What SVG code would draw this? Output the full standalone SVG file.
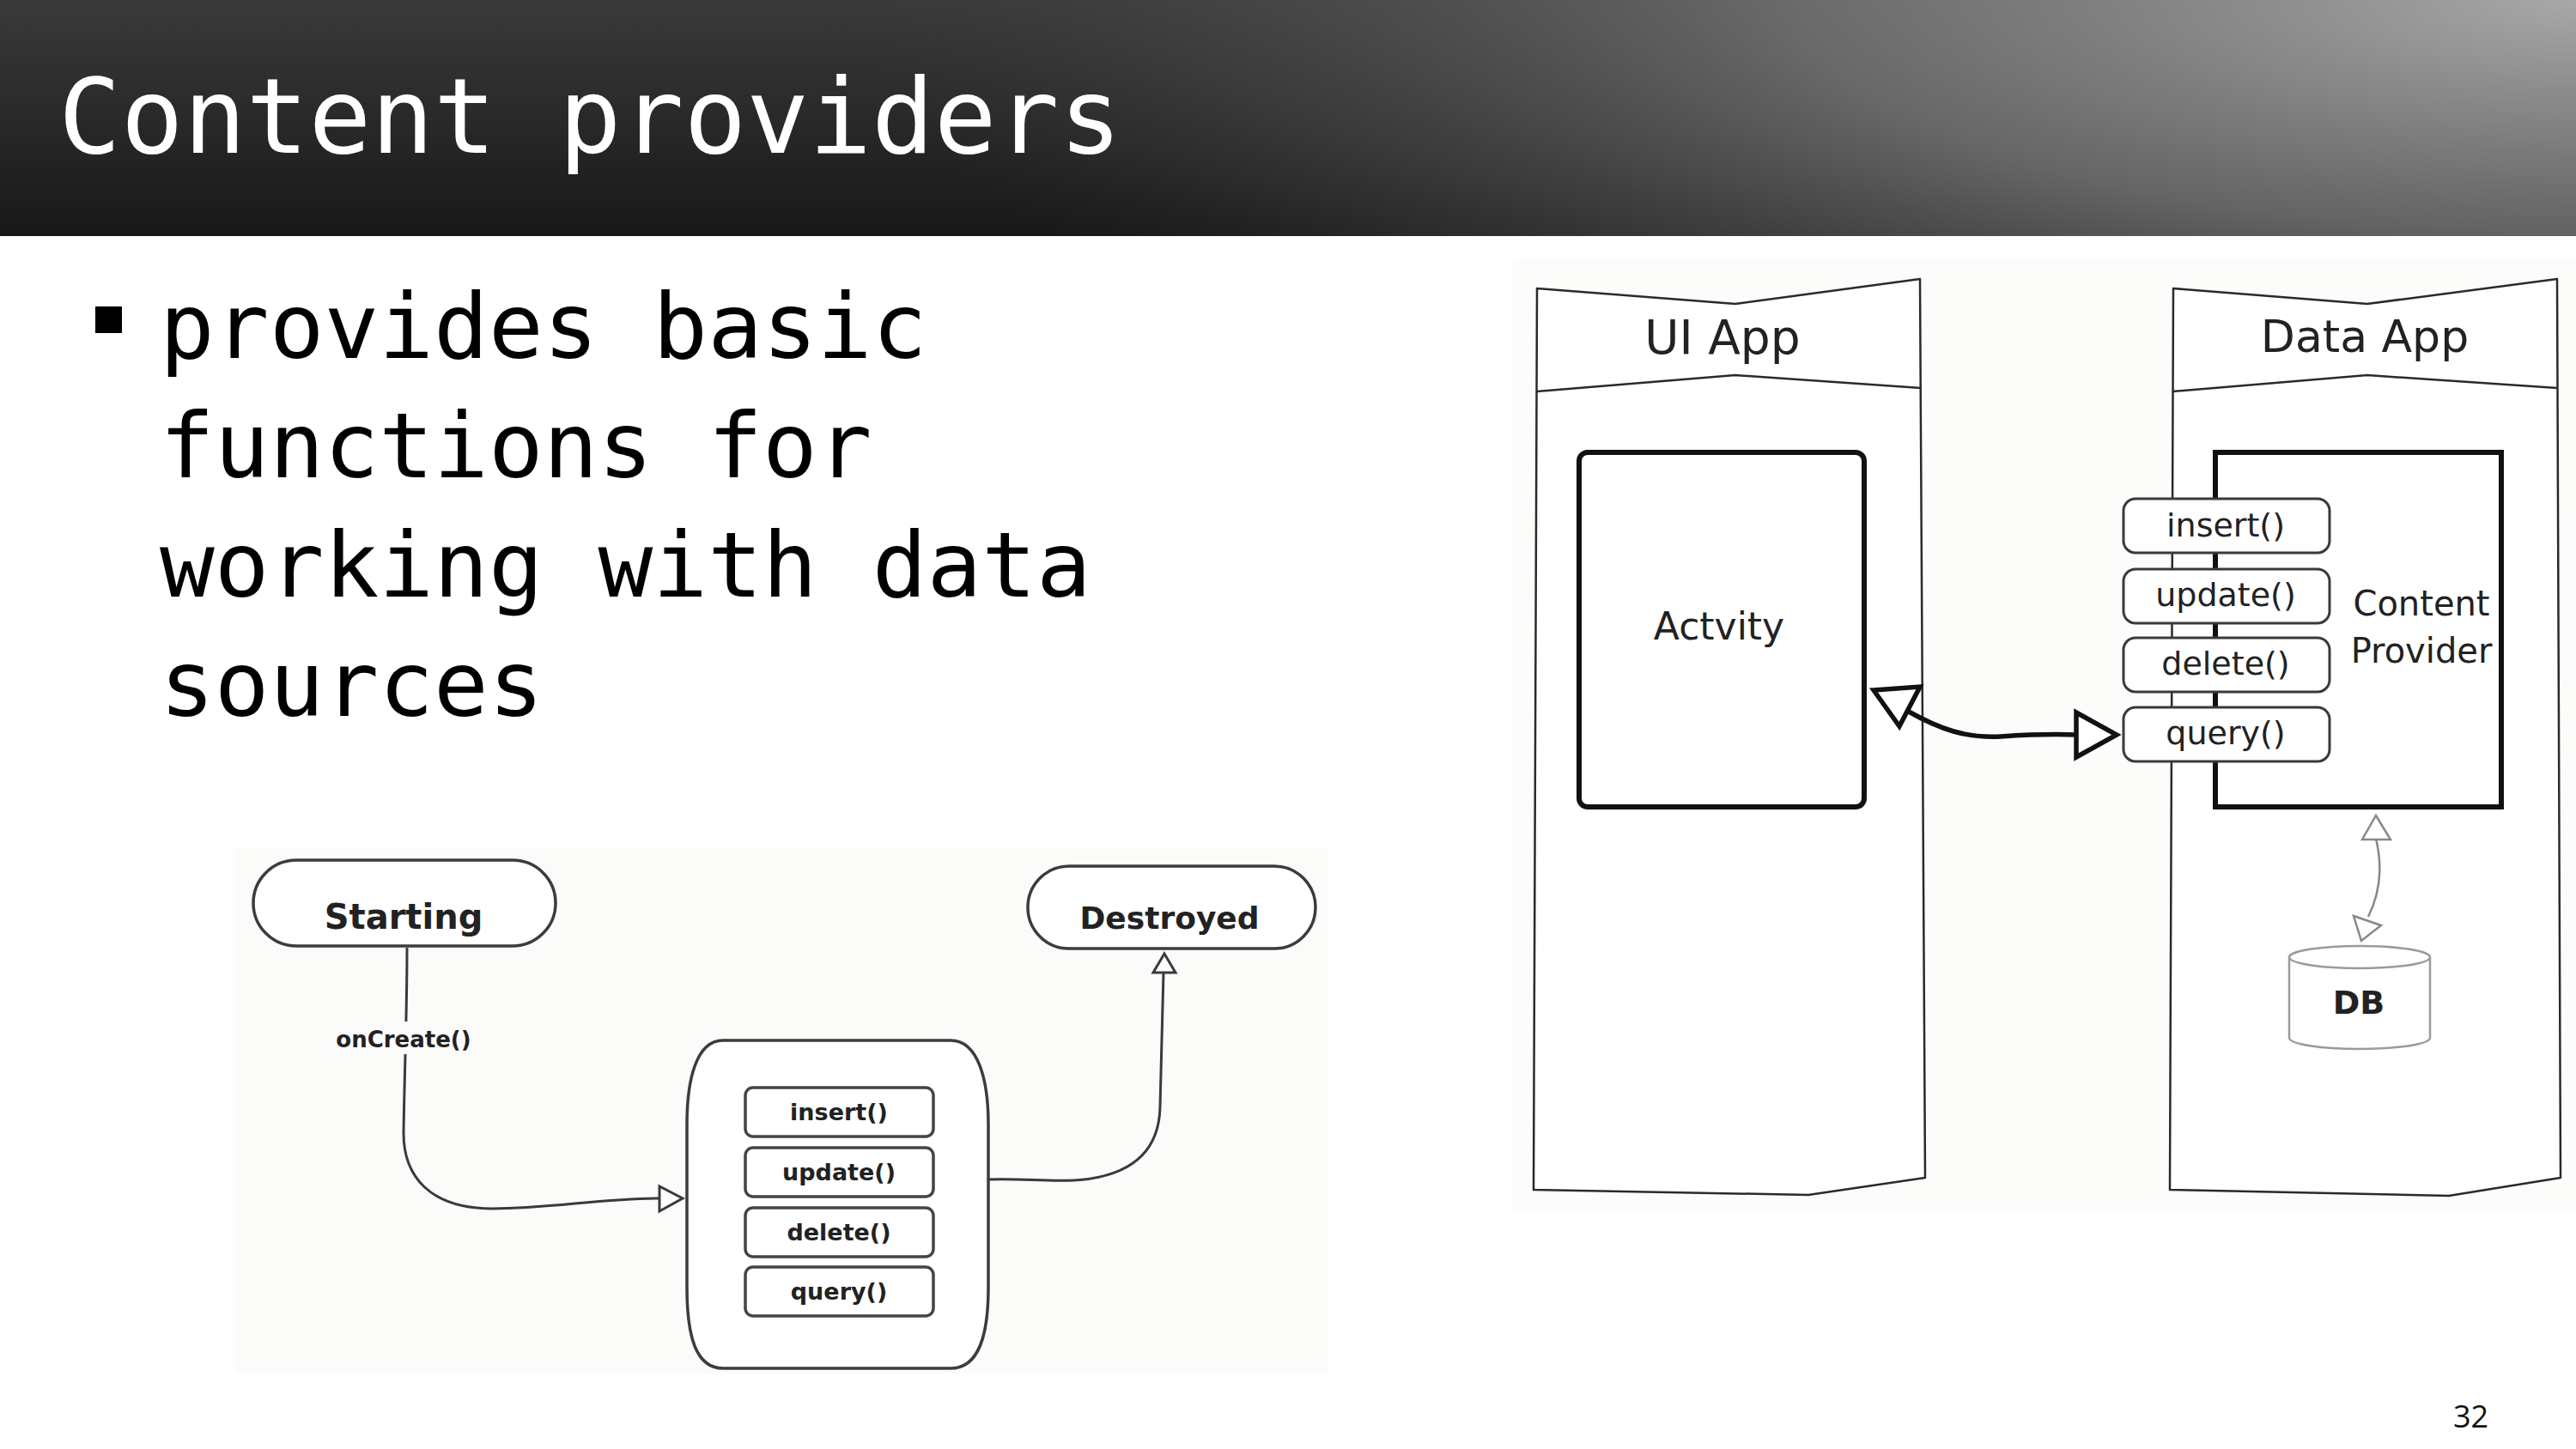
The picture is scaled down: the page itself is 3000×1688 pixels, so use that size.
<svg xmlns="http://www.w3.org/2000/svg" width="3000" height="1688" viewBox="0 0 3000 1688">
  <defs>
    <linearGradient id="bandBase" x1="0" y1="0" x2="0" y2="1">
      <stop offset="0" stop-color="#3a3a3a"/>
      <stop offset="1" stop-color="#181818"/>
    </linearGradient>
    <radialGradient id="bandGlow" gradientUnits="userSpaceOnUse" cx="3000" cy="0" r="2000" gradientTransform="translate(3000 0) scale(1 0.3) translate(-3000 0)">
      <stop offset="0" stop-color="#a8a8a8" stop-opacity="1"/>
      <stop offset="0.45" stop-color="#7c7c7c" stop-opacity="0.75"/>
      <stop offset="0.8" stop-color="#585858" stop-opacity="0.3"/>
      <stop offset="1" stop-color="#404040" stop-opacity="0"/>
    </radialGradient>
    <style>
      .mono { font-family: "DejaVu Sans Mono", "Liberation Mono", monospace; }
      .hand { font-family: "DejaVu Sans", "Noto Sans", sans-serif; fill: #222; text-anchor: middle; }
      .handb { font-family: "DejaVu Sans", "Noto Sans", sans-serif; fill: #222; text-anchor: middle; font-weight: bold; }
      .lane { fill: #ffffff; stroke: #2a2a2a; stroke-width: 2.5; stroke-linejoin: round; }
      .laneSep { fill: none; stroke: #2a2a2a; stroke-width: 2.5; }
      .heavy { fill: #ffffff; stroke: #111111; stroke-width: 6; }
      .pillR { fill: #ffffff; stroke: #3a3a3a; stroke-width: 3; }
      .pillL { fill: #ffffff; stroke: #444444; stroke-width: 3.5; }
      .soft { fill: #ffffff; stroke: #3c3c3c; stroke-width: 3.5; }
      .wire { fill: none; stroke: #3a3a3a; stroke-width: 3; }
      .wireHeavy { fill: none; stroke: #111111; stroke-width: 5.5; }
      .headHeavy { fill: #ffffff; stroke: #111111; stroke-width: 5.5; stroke-linejoin: miter; }
      .head { fill: #ffffff; stroke: #3a3a3a; stroke-width: 3; }
      .headGrey { fill: #ffffff; stroke: #888888; stroke-width: 2.5; }
    </style>
  </defs>

  <!-- slide background -->
  <rect x="0" y="0" width="3000" height="1688" fill="#ffffff"/>

  <!-- title band -->
  <rect x="0" y="0" width="3000" height="275" fill="url(#bandBase)"/>
  <rect x="0" y="0" width="3000" height="275" fill="url(#bandGlow)"/>
  <text class="mono" x="68" y="178" font-size="121" fill="#ffffff">Content providers</text>

  <!-- bullet -->
  <rect x="111" y="357" width="31" height="31" fill="#000000"/>
  <g class="mono" font-size="106" fill="#000000">
    <text x="186" y="417">provides basic</text>
    <text x="186" y="556">functions for</text>
    <text x="186" y="695">working with data</text>
    <text x="186" y="834">sources</text>
  </g>

  <!-- page number -->
  <text x="2857" y="1663" font-family="'Open Sans', 'Liberation Sans', sans-serif" font-size="36" fill="#111111">32</text>

  <!-- lifecycle panel (lower left) -->
  <rect x="274" y="987" width="1272" height="613" fill="#fbfbfa"/>

  <g id="lifecycle-connectors">
    <path class="wire" d="M474,1104 C474,1180 471,1250 470,1320 C470,1370 500,1408 574,1408 C640,1408 700,1396 768,1396"/>
    <polygon class="head" points="768,1382 768,1411 795,1396"/>
    <path class="wire" d="M1151,1374 C1190,1372 1230,1378 1263,1374 C1330,1366 1350,1330 1351,1290 C1353,1230 1354,1180 1355,1133"/>
    <polygon class="head" points="1343,1133 1369,1133 1356,1111"/>
  </g>

  <g id="node-starting">
    <rect class="soft" x="295" y="1002" width="352" height="100" rx="50" ry="50"/>
    <text class="handb" x="470" y="1082" font-size="40">Starting</text>
  </g>

  <g id="node-oncreate-label">
    <rect x="398" y="1190" width="146" height="38" fill="#fbfbfa"/>
    <text class="handb" x="470" y="1220" font-size="26">onCreate()</text>
  </g>

  <g id="node-destroyed">
    <rect class="soft" x="1197" y="1009" width="335" height="96" rx="48" ry="48"/>
    <text class="handb" x="1362" y="1082" font-size="36">Destroyed</text>
  </g>

  <g id="node-provider-body">
    <path class="soft" d="M842,1212 L1107,1212 C1140,1212 1151,1260 1151,1310 L1151,1500 C1151,1556 1140,1594 1107,1594 L842,1594 C810,1594 800,1556 800,1500 L800,1310 C800,1260 810,1212 842,1212 Z"/>
    <rect class="pillL" x="868" y="1267" width="219" height="57" rx="9"/>
    <text class="handb" x="977" y="1305" font-size="27">insert()</text>
    <rect class="pillL" x="868" y="1337" width="219" height="57" rx="9"/>
    <text class="handb" x="977" y="1375" font-size="27">update()</text>
    <rect class="pillL" x="868" y="1407" width="219" height="57" rx="9"/>
    <text class="handb" x="977" y="1445" font-size="27">delete()</text>
    <rect class="pillL" x="868" y="1476" width="219" height="57" rx="9"/>
    <text class="handb" x="977" y="1514" font-size="27">query()</text>
  </g>

  <!-- app architecture panel (right) -->
  <rect x="1762" y="300" width="1238" height="1110" fill="#fcfcfb"/>

  <g id="node-ui-app">
    <path class="lane" d="M1790,336 L2021,354 L2236,325 L2242,1372 L2106,1392 L1786,1386 Z"/>
    <path class="laneSep" d="M1790,456 L2021,437 L2237,452"/>
    <text class="hand" x="2006" y="412" font-size="55">UI App</text>
  </g>

  <g id="node-data-app">
    <path class="lane" d="M2531,336 L2757,354 L2978,325 L2982,1372 L2852,1393 L2527,1386 Z"/>
    <path class="laneSep" d="M2531,456 L2757,437 L2978,452"/>
    <text class="hand" x="2754" y="410" font-size="52">Data App</text>
  </g>

  <g id="node-activity">
    <rect class="heavy" x="1839" y="527" width="332" height="413" rx="10" ry="10"/>
    <text class="hand" x="2002" y="745" font-size="44">Actvity</text>
  </g>

  <g id="node-content-provider">
    <rect class="heavy" x="2580" y="527" width="333" height="413"/>
    <text class="hand" x="2820" y="717" font-size="40">Content</text>
    <text class="hand" x="2820" y="772" font-size="40">Provider</text>
    <rect class="pillR" x="2473" y="581" width="240" height="63" rx="14"/>
    <text class="hand" x="2592" y="625" font-size="38">insert()</text>
    <rect class="pillR" x="2473" y="663" width="240" height="63" rx="14"/>
    <text class="hand" x="2592" y="706" font-size="38">update()</text>
    <rect class="pillR" x="2473" y="743" width="240" height="63" rx="14"/>
    <text class="hand" x="2592" y="786" font-size="38">delete()</text>
    <rect class="pillR" x="2473" y="824" width="240" height="63" rx="14"/>
    <text class="hand" x="2592" y="867" font-size="38">query()</text>
  </g>

  <g id="node-db">
    <path d="M2666,1115 L2666,1209 A82,13 0 0 0 2830,1209 L2830,1115" fill="#ffffff" stroke="#9a9a9a" stroke-width="2.5"/>
    <ellipse cx="2748" cy="1115" rx="82" ry="13" fill="#ffffff" stroke="#9a9a9a" stroke-width="2.5"/>
    <text class="handb" x="2747" y="1181" font-size="38" fill="#333">DB</text>
  </g>

  <g id="architecture-connectors">
    <path class="wireHeavy" d="M2221,828 C2260,850 2290,860 2330,858 C2360,856 2390,855 2418,856"/>
    <polygon class="headHeavy" points="2182,804 2236,800 2212,846"/>
    <polygon class="headHeavy" points="2418,830 2418,882 2465,856"/>
    <path fill="none" stroke="#888888" stroke-width="2.5" d="M2767,977 C2775,1010 2772,1040 2758,1068"/>
    <polygon class="headGrey" points="2751,978 2784,978 2767,950"/>
    <polygon class="headGrey" points="2741,1067 2773,1078 2750,1096"/>
  </g>
</svg>
